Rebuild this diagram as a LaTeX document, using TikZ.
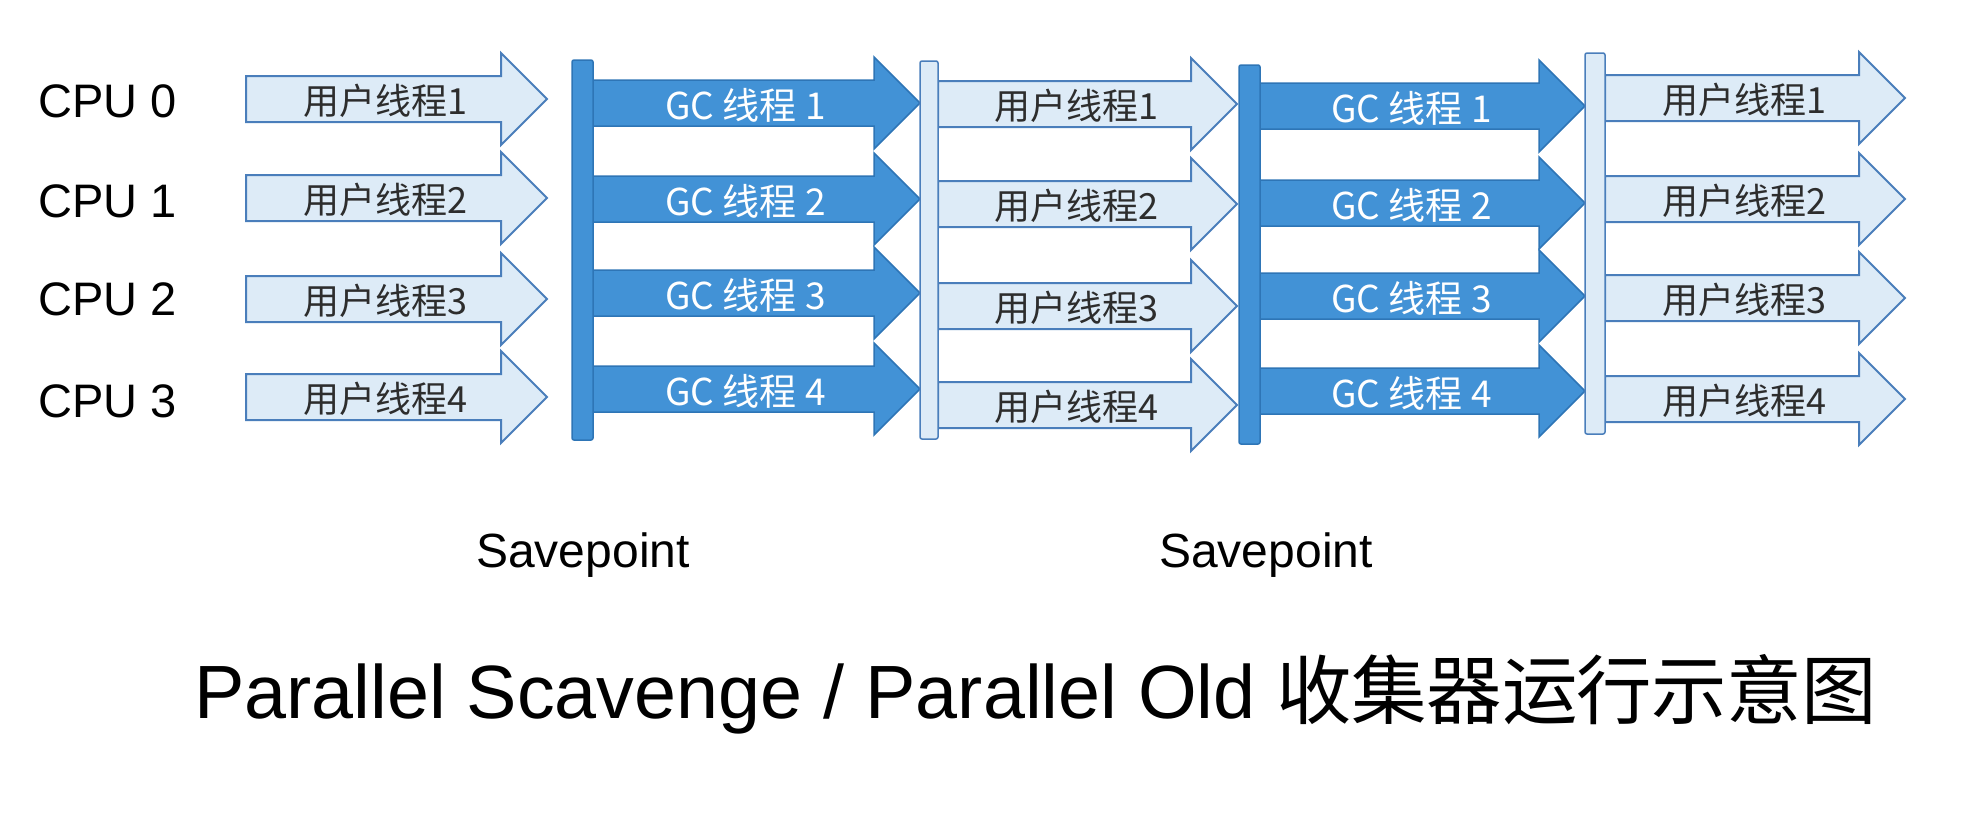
\documentclass[tikz,border=0pt]{standalone}
\usepackage{fontspec}
\setmainfont{Liberation Sans}
\newfontfamily\cjk{Noto Sans CJK SC}
\definecolor{lightfill}{RGB}{221,235,247}
\definecolor{lightline}{RGB}{74,126,187}
\definecolor{darkfill}{RGB}{66,146,214}
\definecolor{darkline}{RGB}{46,117,182}
\definecolor{labelgray}{RGB}{45,45,45}
\tikzset{
 userarrow/.style={fill=lightfill, draw=lightline, line width=2pt, line join=miter},
 gcarrow/.style={fill=darkfill, draw=darkline, line width=1.5pt, line join=miter},
 userlabel/.style={font=\cjk\fontsize{36}{40}\selectfont, text=labelgray, inner sep=0},
 gclabel/.style={font=\cjk\fontsize{37}{40}\selectfont, text=white, inner sep=0},
 darkbar/.style={rectangle, fill=darkfill, draw=darkline, line width=1.5pt, rounded corners=2pt, minimum width=21pt, inner sep=0},
 lightbar/.style={rectangle, fill=lightfill, draw=lightline, line width=1.5pt, rounded corners=2pt, minimum width=18pt, inner sep=0},
 cpulabel/.style={font=\fontsize{47}{56}\selectfont, anchor=base west, inner sep=0},
 savelabel/.style={font=\fontsize{48}{56}\selectfont, anchor=base, inner sep=0},
 titlelabel/.style={font=\fontsize{75.5}{80}\selectfont, anchor=base west, inner sep=0},
}
\newcommand\blockarrow[7]{%
 \draw[#1] ({#2},{#4-23}) -- ({#3-46},{#4-23}) -- ({#3-46},{#4-46}) -- ({#3},{#4}) -- ({#3-46},{#4+46}) -- ({#3-46},{#4+23}) -- ({#2},{#4+23}) -- cycle;
 \node[#7] (#5) at ({(#2+#3)/2-11},{#4+2}) {#6};
}
\newcommand\tk{\kern-0.5pt}
\begin{document}
\begin{tikzpicture}[x=1pt,y=-1pt]
\useasboundingbox (0,0) rectangle (1970,812);
% CPU labels
\node[cpulabel] (cpu0) at (38,117) {CPU 0};
\node[cpulabel] (cpu1) at (38,217) {CPU 1};
\node[cpulabel] (cpu2) at (38,315) {CPU 2};
\node[cpulabel] (cpu3) at (38,417) {CPU 3};
% arrows
\foreach \yy [count=\i] in {99,198,299,397}
  {\blockarrow{userarrow}{246}{547}{\yy}{ua\i}{用户线程\i}{userlabel}}
\foreach \yy [count=\i] in {103,199,293,389}
  {\blockarrow{gcarrow}{593}{920}{\yy}{ga\i}{GC 线程 \i}{gclabel}}
\foreach \yy [count=\i] in {104,204,306,405}
  {\blockarrow{userarrow}{938}{1237}{\yy}{ub\i}{用户线程\i}{userlabel}}
\foreach \yy [count=\i] in {106,203,296,391}
  {\blockarrow{gcarrow}{1260}{1585}{\yy}{gb\i}{GC 线程 \i}{gclabel}}
\foreach \yy [count=\i] in {98,199,298,399}
  {\blockarrow{userarrow}{1605}{1905}{\yy}{uc\i}{用户线程\i}{userlabel}}
% bars
\node[darkbar, minimum height=380pt] (bar1) at (582.5,250) {};
\node[lightbar, minimum height=378pt] (bar2) at (929,250) {};
\node[darkbar, minimum height=379pt] (bar3) at (1249.5,254.5) {};
\node[lightbar, minimum width=20pt, minimum height=381pt] (bar4) at (1595,243.5) {};
% savepoints
\node[savelabel] (sp1) at (583,567) {Savepoint};
\node[savelabel] (sp2) at (1266,567) {Savepoint};
% title
\node[titlelabel] (title) at (194,718) {Parallel Scavenge / Parallel Old {\cjk 收\tk 集\tk 器\tk 运\tk 行\tk 示\tk 意\tk 图}};
\end{tikzpicture}
\end{document}
